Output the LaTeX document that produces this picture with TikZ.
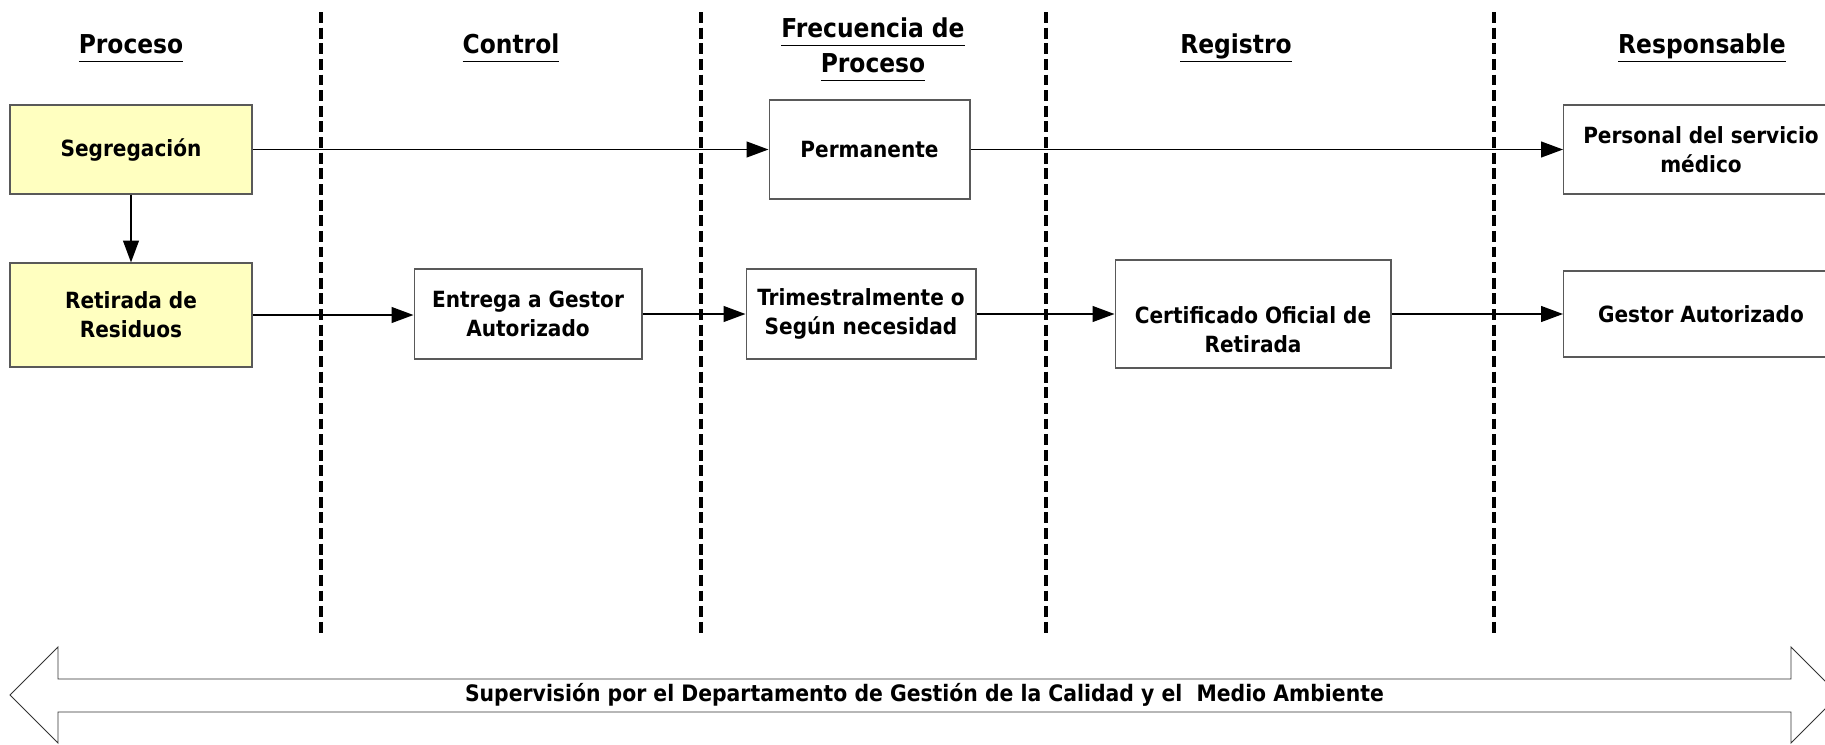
\documentclass[tikz,border=0pt]{standalone}
\usepackage{fontspec}
\setmainfont{DejaVu Sans Condensed}
\usetikzlibrary{arrows.meta}
\definecolor{yellowfill}{HTML}{FFFFC0}
\newcommand{\hdul}[1]{\underline{\vphantom{p}#1}}
\begin{document}
\begin{tikzpicture}[x=0.02cm,y=-0.02cm,
  box/.style={draw=black!65, line width=0.6pt, align=center, inner sep=0pt,
    font=\fontsize{12.7}{16.5}\selectfont\bfseries},
  ybox/.style={box, fill=yellowfill},
  head/.style={anchor=base, align=center, font=\fontsize{14.8}{19.8}\selectfont\bfseries},
  conn/.style={line width=1pt, -{Triangle[length=12.5pt,width=9pt]}},
  sep/.style={line width=1.9pt, dash pattern=on 6.2pt off 2.7pt},
  bigarrow/.style={draw=black!80, line width=0.5pt, fill=white}]
\useasboundingbox (0,0) rectangle (1825,744);
\clip (0,0) rectangle (1825,744);

% separators
\draw[sep] (321,12) -- (321,634);
\draw[sep] (701,12) -- (701,634);
\draw[sep] (1046,12) -- (1046,634);
\draw[sep] (1494,12) -- (1494,634);

% headers
\node[head] (hproc) at (131,53) {\hdul{Proceso}};
\node[head] (hctrl) at (511,53) {\hdul{Control}};
\node[head] (hfreq) at (873,72) {\hdul{Frecuencia de}\\\hdul{Proceso}};
\node[head] (hreg) at (1236,53) {\hdul{Registro}};
\node[head] (hresp) at (1702,53) {\hdul{Responsable}};

% boxes
\node[ybox, minimum width=4.84cm, minimum height=1.78cm] (seg) at (131,149.5) {Segregación};
\node[ybox, minimum width=4.84cm, minimum height=2.08cm] (ret) at (131,315) {Retirada de\\Residuos};
\node[box, minimum width=4.56cm, minimum height=1.8cm] (ent) at (528,314) {Entrega a Gestor\\Autorizado};
\node[box, minimum width=4.02cm, minimum height=1.98cm] (perm) at (869.5,149.5) {Permanente};
\node[box, minimum width=4.6cm, minimum height=1.8cm] (tri) at (861,314) {Trimestralmente o\\Según necesidad};
\node[box, minimum width=5.52cm, minimum height=2.16cm] (cert) at (1253,314) {\strut\\Certificado Oficial de\\Retirada};
\node[box, minimum width=5.5cm, minimum height=1.78cm] (pers) at (1701,149.5) {Personal del servicio\\médico};
\node[box, minimum width=5.5cm, minimum height=1.72cm] (gest) at (1701,314) {Gestor Autorizado};

% connectors
\draw[conn] (seg.east) -- (perm.west);
\draw[conn] (perm.east) -- (pers.west);
\draw[conn] (seg.south) -- (ret.north);
\draw[conn] (ret.east) -- (ret.east -| ent.west);
\draw[conn] (ent.east) -- (ent.east -| tri.west);
\draw[conn] (tri.east) -- (tri.east -| cert.west);
\draw[conn] (cert.east |- tri.east) -- (tri.east -| gest.west);

% supervision double arrow
\draw[bigarrow] (10,695) -- (58,647) -- (58,679) -- (1791,679) -- (1791,647)
  -- (1839,695) -- (1791,743) -- (1791,712) -- (58,712) -- (58,743) -- cycle;
\node[font=\fontsize{12.9}{15}\selectfont\bfseries] (sup) at (924.5,695)
  {Supervisión por el Departamento de Gestión de la Calidad y el\ \ Medio Ambiente};
\end{tikzpicture}
\end{document}
